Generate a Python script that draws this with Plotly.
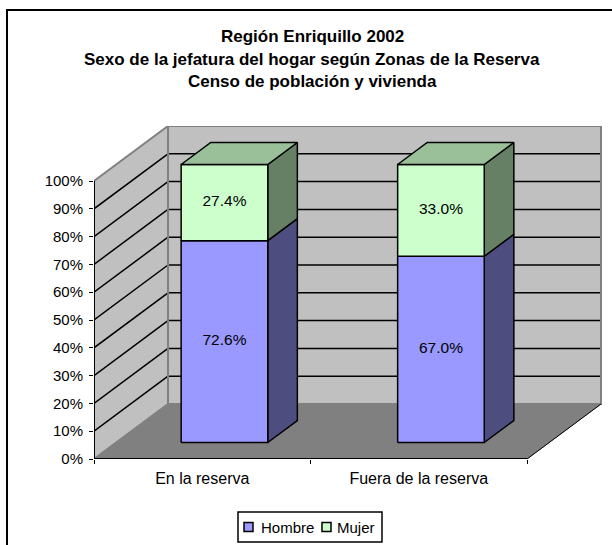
import plotly.graph_objects as go

categories = ["En la reserva", "Fuera de la reserva"]
hombre = [72.6, 67.0]
mujer = [27.4, 33.0]
labels_hombre = ["72.6%", "67.0%"]
labels_mujer = ["27.4%", "33.0%"]
y_ticks = [0, 10, 20, 30, 40, 50, 60, 70, 80, 90, 100]
y_tick_text = ["0%", "10%", "20%", "30%", "40%", "50%", "60%", "70%", "80%", "90%", "100%"]

W, H = 612, 545
LEFT, RIGHT, BOTTOM, TOP = 94, 602, 459, 126       # plot-area edges (px)
FRONT_W, FRONT_H, DEPTH_X, DEPTH_Y = 433, 278, 74, 55  # projection (px)
n = len(categories)
XU = n / FRONT_W       # data units per px
YU = 100 / FRONT_H
DX, DY = DEPTH_X * XU, DEPTH_Y * YU
FONT = "Liberation Sans"


def proj(x, y, d):
    """Oblique projection of (category pos, value, depth 0..1) onto the axes."""
    return x + d * DX, y + d * DY


def poly(points, fill, line="black", width=1.5, name=None):
    xs, ys = zip(*[proj(*p) for p in points + [points[0]]])
    return go.Scatter(x=xs, y=ys, mode="lines", fill="toself", fillcolor=fill, name=name,
                      line=dict(color=line, width=width), hoverinfo="skip",
                      showlegend=False, cliponaxis=False)


def seg(a, b, color="black", width=1.5):
    xs, ys = zip(proj(*a), proj(*b))
    return go.Scatter(x=xs, y=ys, mode="lines", line=dict(color=color, width=width),
                      hoverinfo="skip", showlegend=False, cliponaxis=False)


fig = go.Figure()
WALL, FLOOR, EDGE = "#C0C0C0", "#808080", "#808080"
# walls and floor
fig.add_trace(poly([(0, 0, 1), (n, 0, 1), (n, 100, 1), (0, 100, 1)], WALL, EDGE, 2))
fig.add_trace(poly([(0, 0, 0), (0, 0, 1), (0, 100, 1), (0, 100, 0)], WALL, EDGE, 2))
fig.add_trace(poly([(0, 0, 0), (n, 0, 0), (n, 0, 1), (0, 0, 1)], FLOOR, FLOOR, 1))
# gridlines
for t in y_ticks[1:-1]:
    fig.add_trace(seg((0, t, 0), (0, t, 1)))
    fig.add_trace(seg((0, t, 1), (n, t, 1)))
# wall corner above the gridlines, floor outer edge on the right
fig.add_trace(seg((0, 0, 1), (0, 100, 1), EDGE, 2))
fig.add_trace(seg((n, 0, 1), (n, 100, 1), EDGE, 2))
fig.add_trace(seg((n, 0, 0), (n, 0, 1), "black", 1))

# bars
D0, D1 = 0.30, 0.70
B0, B1 = 0.30, 0.70
SERIES = [("Hombre", hombre, "#9999FF", "#4D4D80", "#7777CC"), ("Mujer", mujer, "#CCFFCC", "#668066", "#99C099")]
for i in range(n):
    base = 0
    x0, x1 = i + B0, i + B1
    for k, (name, vals, face, side, top) in enumerate(SERIES):
        v = vals[i]
        fig.add_trace(poly([(x1, base, D0), (x1, base, D1), (x1, base + v, D1), (x1, base + v, D0)], side, name=name))
        fig.add_trace(poly([(x0, base, D0), (x1, base, D0), (x1, base + v, D0), (x0, base + v, D0)], face, name=name))
        if k == 1:
            fig.add_trace(poly([(x0, base + v, D0), (x1, base + v, D0), (x1, base + v, D1), (x0, base + v, D1)], top, name=name))
        base += v

# data labels
for vals, offs, txt in [(hombre, [0] * n, labels_hombre), (mujer, hombre, labels_mujer)]:
    pts = [proj(i + 0.5, offs[i] + vals[i] / 2, D0) for i in range(n)]
    fig.add_trace(go.Scatter(x=[p[0] for p in pts], y=[p[1] for p in pts], mode="text", text=txt,
                             textposition="middle center", textfont=dict(family=FONT, size=15.5, color="black"),
                             hoverinfo="skip", showlegend=False, cliponaxis=False))

# front axis lines
fig.add_trace(seg((0, 0, 0), (0, 100, 0), "black", 2))
fig.add_trace(seg((0, 0, 0), (n, 0, 0), "black", 2))

plot_w, plot_h = RIGHT - LEFT, BOTTOM - TOP


def px(x):
    return (x - LEFT) / plot_w


def py(y):
    return (BOTTOM - y) / plot_h


# chart frame (right and bottom edges run off the page)
fig.add_shape(type="rect", xref="paper", yref="paper", x0=px(7), x1=px(640), y0=py(580), y1=py(10),
              line=dict(color="black", width=2), layer="below")

for line, ypos in [("Región Enriquillo 2002", 37), ("Sexo de la jefatura del hogar según Zonas de la Reserva", 59),
                   ("Censo de población y vivienda", 81)]:
    fig.add_annotation(text=f"<b>{line}</b>", xref="paper", yref="paper", x=px(312), y=py(ypos),
                       showarrow=False, xanchor="center", yanchor="middle",
                       font=dict(family=FONT, size=17, color="black"))

# legend box
fig.add_shape(type="rect", xref="paper", yref="paper", x0=px(238), x1=px(382), y0=py(542), y1=py(512),
              line=dict(color="black", width=1.5), fillcolor="white")
for (name, _, face, _, _), sx, tx in zip(SERIES, [244, 322], [260, 336]):
    fig.add_shape(type="rect", xref="paper", yref="paper", x0=px(sx), x1=px(sx + 9), y0=py(531.5), y1=py(522.5),
                  line=dict(color="black", width=1.5), fillcolor=face)
    fig.add_annotation(text=name, xref="paper", yref="paper", x=px(tx), y=py(527), showarrow=False,
                       xanchor="left", yanchor="middle", xshift=-1, font=dict(family=FONT, size=15, color="black"))

fig.update_layout(
    width=W, height=H, margin=dict(l=LEFT, r=W - RIGHT, t=TOP, b=H - BOTTOM),
    paper_bgcolor="white", plot_bgcolor="white",
    font=dict(family=FONT, size=15, color="black"),
    xaxis=dict(range=[0, plot_w * XU], tickvals=[i + 0.5 for i in range(n)], ticktext=categories,
               showgrid=False, zeroline=False, showline=False, ticks="", ticklabelstandoff=8,
               minor=dict(tickvals=list(range(n + 1)), ticks="outside", ticklen=4, tickwidth=1, tickcolor="black", showgrid=False),
               tickfont=dict(family=FONT, size=16)),
    yaxis=dict(range=[0, plot_h * YU], tickvals=y_ticks, ticktext=y_tick_text, showgrid=False, zeroline=False,
               showline=False, ticks="outside", ticklen=4, tickwidth=1, tickcolor="black", ticklabelstandoff=3,
               tickfont=dict(family=FONT, size=15)),
    showlegend=False,
)
fig.write_html("out.html", post_script="document.body.style.margin='0';", config={"displayModeBar": False})
